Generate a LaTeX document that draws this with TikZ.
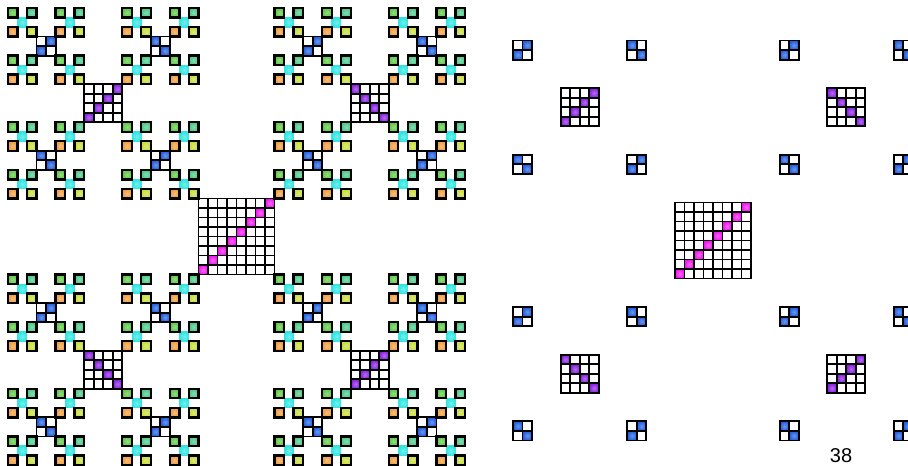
\documentclass[tikz,border=0pt]{standalone}
\usepackage{fontspec}
\setmainfont{Liberation Sans}
\definecolor{cMag}{HTML}{F414F0}
\definecolor{cPur}{HTML}{8A1FE4}
\definecolor{cBlue}{HTML}{1F5FE0}
\definecolor{cCyan}{HTML}{30E4E0}
\definecolor{cLeafA}{HTML}{5CC842}
\definecolor{cLeafB}{HTML}{48C888}
\definecolor{cLeafC}{HTML}{F09C3C}
\definecolor{cLeafD}{HTML}{C8DC38}
\tikzset{
  ball/.style={inner color=#1!65!white, outer color=#1},
  gridline/.style={draw=black, line width=1.8pt, line cap=rect},
  leafcell/.style={draw=black, line width=2.3pt},
}
\newcommand\Wof[1]{\ifcase#1 1\or 3\or 8\or 20\or 48\fi}
\newcommand\Bof[1]{\ifcase#1 1\or 1\or 2\or 4\or 8\fi}
\newcommand\Cof[1]{\ifcase#1 black\or cCyan\or cBlue\or cPur\or cMag\fi}
\newcommand\Lof[1]{\ifcase#1 cLeafA\or cLeafB\or cLeafC\or cLeafD\fi}
\newcommand\DrawLeaf[3]{%
  \edef\lc{\Lof{#3}}%
  \shade[leafcell, ball=\lc] (#1,#2) rectangle +(1,1);}
\newcommand\DrawBlock[4]{%
  \ifnum#1=1\relax
    \shade[ball=cCyan] (#2,#3) rectangle +(1,1);
  \else
    \edef\kk{\Bof{#1}}%
    \edef\km{\the\numexpr\kk-1\relax}%
    \edef\cc{\Cof{#1}}%
    \foreach \i in {0,...,\km}{%
      \ifnum#4=0\relax
        \shade[ball=\cc] (#2+\i,#3+\km-\i) rectangle +(1,1);
      \else
        \shade[ball=\cc] (#2+\i,#3+\i) rectangle +(1,1);
      \fi}%
    \foreach \j in {0,...,\kk}{%
      \draw[gridline] (#2+\j,#3) -- (#2+\j,#3+\kk);
      \draw[gridline] (#2,#3+\j) -- (#2+\kk,#3+\j);}%
  \fi}
\newcommand\DrawT[5]{%
  \begingroup
  \ifnum#1=0\relax
    \ifnum\MinLevel=0\relax \DrawLeaf{#2}{#3}{#5}\fi
  \else
    \edef\lm{\the\numexpr#1-1\relax}%
    \edef\wc{\Wof{\lm}}%
    \edef\bk{\Bof{#1}}%
    \edef\bx{\the\numexpr#2+\wc\relax}%
    \edef\by{\the\numexpr#3+\wc\relax}%
    \edef\fx{\the\numexpr#2+\wc+\bk\relax}%
    \edef\fy{\the\numexpr#3+\wc+\bk\relax}%
    \ifnum#1<\MinLevel\relax\else \DrawBlock{#1}{\bx}{\by}{#4}\fi
    \edef\next{%
      \noexpand\DrawT{\lm}{#2}{#3}{0}{0}%
      \noexpand\DrawT{\lm}{\fx}{#3}{1}{1}%
      \noexpand\DrawT{\lm}{#2}{\fy}{1}{2}%
      \noexpand\DrawT{\lm}{\fx}{\fy}{0}{3}}%
    \next
  \fi
  \endgroup}
\begin{document}
\begin{tikzpicture}[x=1pt,y=-1pt]
\useasboundingbox (0,0) rectangle (908,466);
\fill[white] (0,0) rectangle (908,466);
\begin{scope}[xshift=8pt, yshift=-8pt, x=9.52pt, y=-9.52pt]
  \def\MinLevel{0}
  \DrawT{4}{0}{0}{0}{0}
\end{scope}
\begin{scope}[xshift=484.5pt, yshift=-12pt, x=9.52pt, y=-9.52pt]
  \def\MinLevel{2}
  \DrawT{4}{0}{0}{0}{0}
\end{scope}
\node[anchor=base, inner sep=0pt, font=\fontsize{20}{22}\selectfont] (pg) at (841,462) {38};
\end{tikzpicture}
\end{document}
